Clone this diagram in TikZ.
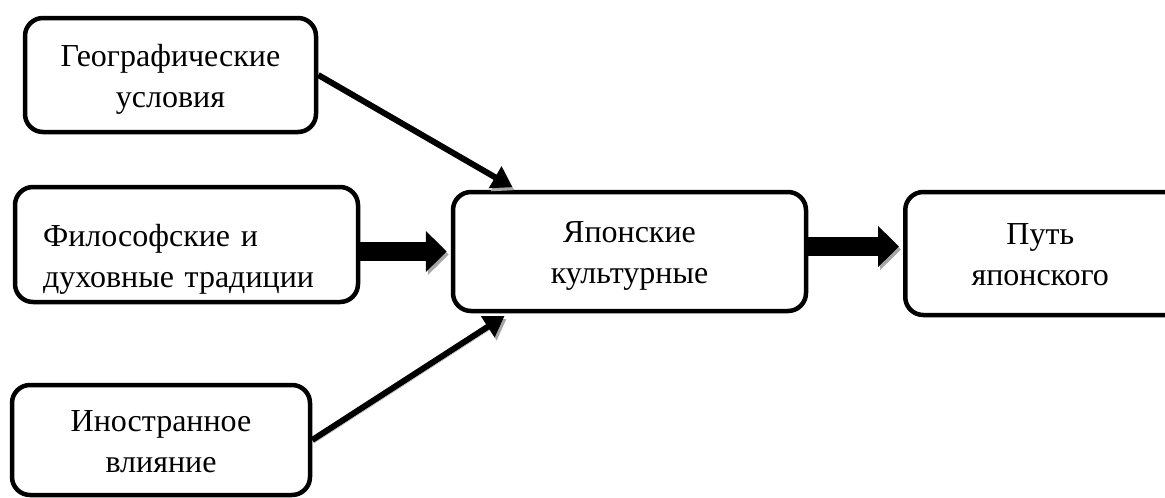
\documentclass[tikz,border=0pt]{standalone}
\usepackage{fontspec}
\setmainfont{Liberation Serif}
\usetikzlibrary{arrows.meta}

\begin{document}
\begin{tikzpicture}[x=1pt,y=-1pt,
	box/.style={draw=black, line width=4.5pt, rounded corners=18pt, inner sep=0pt, font=\fontsize{32}{41}\selectfont},
	midbox/.style={box, align=center, execute at begin node=\rule[-12pt]{0pt}{88pt}},
	leftbox/.style={box, align=left, execute at begin node=\rule{0pt}{51pt}},
	shadowed/.style={preaction={draw=black!35, transform canvas={shift={(2pt,-3pt)}}}},
	thinarrow/.style={line width=6pt, -{Triangle[length=20pt,width=24pt]}, shorten >=5pt, shadowed},
	blockarrow/.style={line width=19pt, -{Triangle[length=21pt,width=40pt]}, shorten >=4pt, shadowed}]
	\useasboundingbox (0,0) rectangle (1165,498);
	% boxes
	\node[midbox, minimum width=291pt, minimum height=114pt] (geo) at (170.5,75) {Географические\\условия};
	\node[leftbox, minimum width=343pt, minimum height=115pt, text width=287pt] (phil) at (186.5,244.5) {Философские и\\духовные традиции};
	\node[midbox, minimum width=353pt, minimum height=119pt] (jcult) at (629.5,251.5) {Японские\\культурные};
	\node[midbox, minimum width=300pt, minimum height=123pt, anchor=west] (way) at (903,253.5) {Путь\makebox[30pt]{}\\японского\makebox[30pt]{}};
	\node[midbox, minimum width=298pt, minimum height=110pt] (foreign) at (161,440) {Иностранное\\влияние};
	% arrows
	\draw[thinarrow] (geo.east) -- ([xshift=66pt]jcult.north west);
	\draw[thinarrow] (foreign.east) -- ([xshift=58pt]jcult.south west);
	\draw[blockarrow] (jcult.west -| phil.east) -- (jcult.west);
	\draw[blockarrow] ([yshift=5pt]jcult.east) -- ([yshift=5pt]jcult.east -| way.west);
\end{tikzpicture}
\end{document}
